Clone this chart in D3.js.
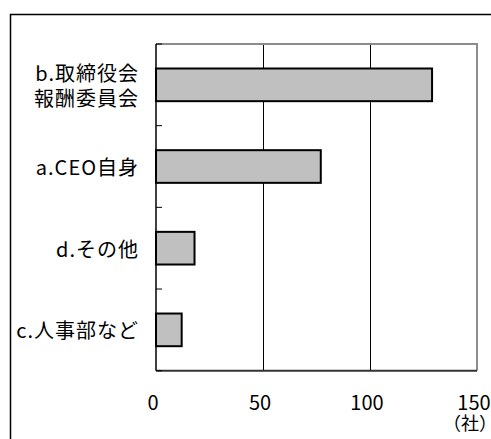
<!DOCTYPE html>
<html><head><meta charset="utf-8">
<script src="https://cdn.jsdelivr.net/npm/d3@7"></script>
<style>html,body{margin:0;padding:0;background:#fff;overflow:hidden}</style>
</head><body>
<svg id="chart" width="491" height="439"></svg>
<script>
const categories = [["b.取締役会","報酬委員会"],["a.CEO自身"],["d.その他"],["c.人事部など"]];
const values = [129, 77, 18, 12];
const xTicks = [0, 50, 100, 150];
const unitLabel = "（社）";

const svg = d3.select("#chart");
const fontFam = "'Noto Sans CJK JP', 'Noto Sans', sans-serif";
const numFam = "'Noto Sans CJK JP', sans-serif";
const L = 156, R = 477, T = 44, B = 370.7;

// outer frame
svg.append("rect").attr("x",10.5).attr("y",14.5).attr("width",600).attr("height",600)
  .attr("fill","none").attr("stroke","#000").attr("stroke-width",1.5);

const x = d3.scaleLinear().domain([0,150]).range([L,R]);
const y = d3.scaleBand().domain(d3.range(categories.length)).range([T,B]).paddingInner(0.6).paddingOuter(0.3);

// gridlines
svg.append("g").selectAll("line").data(xTicks.filter(t=>t>0 && t<150)).join("line")
  .attr("x1",d=>Math.round(x(d))+0.5).attr("x2",d=>Math.round(x(d))+0.5)
  .attr("y1",T).attr("y2",B).attr("stroke","#000").attr("stroke-width",1);

// plot top and right border (gray)
svg.append("path").attr("d",`M${L},${T}H${R}V${B}`).attr("fill","none")
  .attr("stroke","#8c8c8c").attr("stroke-width",2);

// bars
svg.append("g").selectAll("rect").data(values).join("rect")
  .attr("x",x(0)).attr("y",(d,i)=>y(i)).attr("width",d=>x(d)-x(0)).attr("height",y.bandwidth())
  .attr("fill","#c0c0c0").attr("stroke","#000").attr("stroke-width",2);

// bottom axis line
svg.append("line").attr("x1",L).attr("x2",R).attr("y1",B).attr("y2",B)
  .attr("stroke","#333").attr("stroke-width",2);

// left axis with ticks at band boundaries
const step = y.step();
const bounds = d3.range(categories.length+1).map(i=>T+i*step);
svg.append("line").attr("x1",L).attr("x2",L).attr("y1",T).attr("y2",B)
  .attr("stroke","#000").attr("stroke-width",1.5);
svg.append("g").selectAll("line").data(bounds).join("line")
  .attr("x1",L).attr("x2",L+6).attr("y1",d=>d).attr("y2",d=>d)
  .attr("stroke","#000").attr("stroke-width",1);

// category labels
const lab = svg.append("g").attr("font-family",fontFam).attr("font-size",20).attr("fill","#000");
categories.forEach((lines,i)=>{
  const cy = y(i)+y.bandwidth()/2;
  const lh = 25;
  const n = lines.length;
  lines.forEach((t,j)=>{
    lab.append("text").attr("x",139).attr("y",cy+(j-(n-1)/2)*lh)
      .attr("text-anchor","end").attr("dominant-baseline","central")
      .attr("letter-spacing","1px").text(t);
  });
});

// x tick labels
svg.append("g").attr("font-family",numFam).attr("font-size",20).attr("fill","#000")
  .selectAll("text").data(xTicks).join("text")
  .attr("x",d=>x(d)-3).attr("y",410).attr("text-anchor","middle").text(d=>d);

svg.append("text").attr("x",443).attr("y",430).attr("font-family",fontFam)
  .attr("font-size",18).attr("fill","#000").text(unitLabel);
</script>
</body></html>
